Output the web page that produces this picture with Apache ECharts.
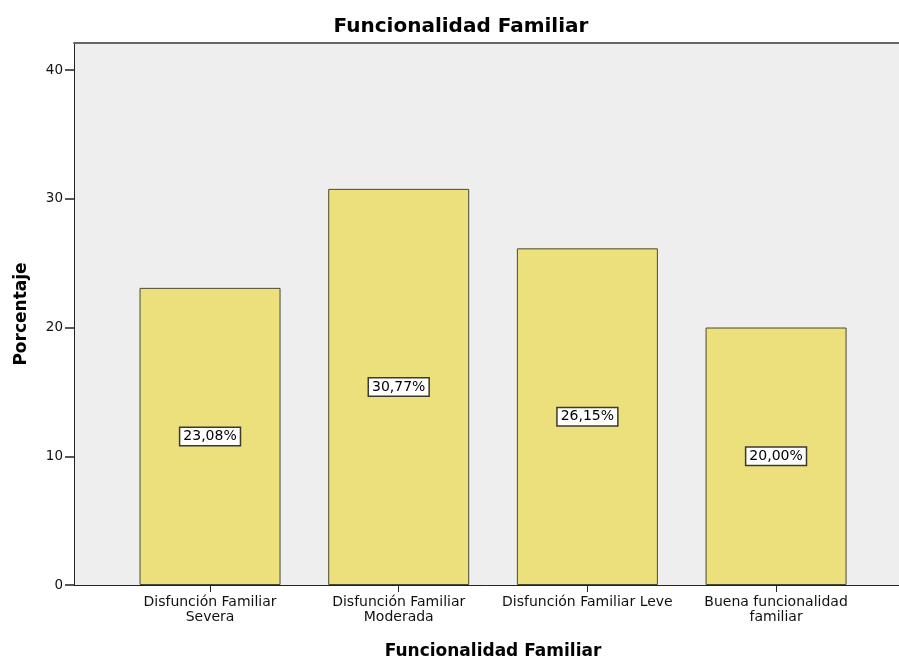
<!DOCTYPE html>
<html>
<head>
<meta charset="utf-8">
<script src="https://cdn.jsdelivr.net/npm/echarts@6/dist/echarts.min.js"></script>
<style>
  html, body { margin: 0; padding: 0; background: #fff; }
  #chart { width: 899px; height: 658px; }
</style>
</head>
<body>
<div id="chart"></div>
<script>
// categorias y porcentajes
var categorias = [
  'Disfunción Familiar\nSevera',
  'Disfunción Familiar\nModerada',
  'Disfunción Familiar Leve',
  'Buena funcionalidad\nfamiliar'
];
var porcentajes = [23.08, 30.77, 26.15, 20.00];
var yTicks = [0, 10, 20, 30, 40];

var font = "'DejaVu Sans', 'Liberation Sans', sans-serif";
var chart = echarts.init(document.getElementById('chart'));

var option = {
  animation: false,
  title: {
    text: 'Funcionalidad Familiar',
    left: 456,
    top: 12,
    textAlign: 'center',
    textStyle: { fontFamily: font, fontSize: 20, fontWeight: 'bold', color: '#000' }
  },
  grid: [
    // fondo gris y ejes
    { left: 74, top: 43, width: 838, height: 542, show: true, backgroundColor: '#eeeeee', borderWidth: 0, outerBoundsMode: 'none', containLabel: false },
    // barras
    { left: 115.7, top: 43, width: 754.7, height: 542, outerBoundsMode: 'none', containLabel: false }
  ],
  xAxis: [
    {
      gridIndex: 0, type: 'value', min: 0, max: 1, position: 'bottom',
      name: 'Funcionalidad Familiar', nameLocation: 'middle', nameGap: 58,
      nameTextStyle: { fontFamily: font, fontSize: 17, fontWeight: 'bold', color: '#000' },
      axisLine: { show: true, lineStyle: { color: '#222', width: 1 } },
      axisTick: { show: false }, axisLabel: { show: false }, splitLine: { show: false }
    },
    {
      gridIndex: 1, type: 'category', data: categorias, position: 'bottom',
      axisLine: { show: false },
      axisTick: { show: true, alignWithLabel: true, length: 7, lineStyle: { color: '#222' } },
      axisLabel: { interval: 0, fontFamily: font, fontSize: 14, color: '#111', lineHeight: 15, margin: 10 },
      splitLine: { show: false }
    },
    {
      gridIndex: 0, type: 'value', min: 0, max: 1, position: 'top',
      axisLine: { show: true, lineStyle: { color: '#666', width: 2 } },
      axisTick: { show: false }, axisLabel: { show: false }, splitLine: { show: false }
    }
  ],
  yAxis: [
    {
      gridIndex: 0, type: 'value', min: 0, max: 42.1, interval: 10,
      name: 'Porcentaje', nameLocation: 'middle', nameGap: 44,
      nameTextStyle: { fontFamily: font, fontSize: 17, fontWeight: 'bold', color: '#000' },
      axisLine: { show: true, lineStyle: { color: '#222', width: 1 } },
      axisTick: { show: true, length: 9, customValues: yTicks, lineStyle: { color: '#222', width: 1.5 } },
      axisLabel: {
        fontFamily: font, fontSize: 13.5, color: '#111', margin: 11,
        customValues: yTicks
      },
      splitLine: { show: false }
    },
    {
      gridIndex: 1, type: 'value', min: 0, max: 42.1, show: false
    }
  ],
  series: [
    {
      type: 'bar',
      xAxisIndex: 1,
      yAxisIndex: 1,
      data: porcentajes,
      barWidth: 141,
      itemStyle: { color: '#ece07d', borderColor: '#4a4a32', borderWidth: 1 },
      label: {
        show: true,
        position: 'inside',
        formatter: function (p) { return p.value.toFixed(2).replace('.', ',') + '%'; },
        fontFamily: font, fontSize: 14, color: '#000',
        backgroundColor: '#fff', borderColor: '#3a3a2a', borderWidth: 1.5,
        padding: [2, 3, 1, 3]
      }
    }
  ]
};

chart.setOption(option);
</script>
</body>
</html>
